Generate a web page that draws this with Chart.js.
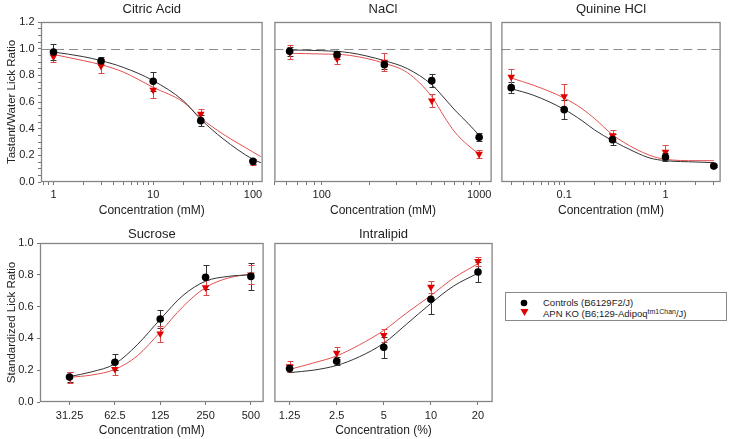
<!DOCTYPE html>
<html>
<head>
<meta charset="utf-8">
<script src="https://cdn.jsdelivr.net/npm/chart.js@4.4.0/dist/chart.umd.min.js"></script>
<style>
  body { margin: 0; background: #fff; width: 729px; height: 439px; position: relative; overflow: hidden;
         font-family: "Liberation Sans", Arial, Helvetica, sans-serif; }
  canvas { position: absolute; }
  #legend { position: absolute; left: 505px; top: 292px; width: 220px; height: 27px; border: 1px solid #8a8a8a;
            font-size: 9.5px; color: #222; }
  #legend .row { position: absolute; left: 0; height: 10px; line-height: 10px; white-space: nowrap; }
  #legend svg { position: absolute; left: 14px; top: 1px; }
  #legend span { position: absolute; left: 37px; top: 0; }
  #legend sup { font-size: 7px; vertical-align: 3px; }
</style>
</head>
<body>
<canvas id="citric" width="267" height="218" style="left:0;top:0"></canvas>
<canvas id="nacl" width="226" height="218" style="left:270px;top:0"></canvas>
<canvas id="quinine" width="228" height="218" style="left:497px;top:0"></canvas>
<canvas id="sucrose" width="268" height="213" style="left:0;top:225px"></canvas>
<canvas id="intralipid" width="227" height="213" style="left:270px;top:225px"></canvas>
<div id="legend">
  <div class="row" style="top:5px"><svg width="8" height="8"><circle cx="4" cy="4" r="3.3" fill="#000"/></svg><span>Controls (B6129F2/J)</span></div>
  <div class="row" style="top:14px"><svg width="9" height="8"><polygon points="0.5,1 8.5,1 4.5,8" fill="#e00000"/></svg><span>APN KO (B6;129-Adipoq<sup>tm1Chan</sup>/J)</span></div>
</div>
<script>
// ---- Citric Acid ----
const citricConc = [1, 3, 10, 30, 100];
const citricCtrl = [0.975, 0.907, 0.755, 0.46, 0.155];
const citricCtrlErr = [0.06, 0.03, 0.07, 0.04, 0.02];
const citricKO = [0.94, 0.87, 0.69, 0.51, 0.15];
const citricKOErr = [0.04, 0.05, 0.06, 0.04, 0.02];
const citricFitConc = [1, 2, 3, 5, 10, 20, 30, 50, 100, 120];
const citricFitCtrl = [0.975, 0.94, 0.91, 0.86, 0.76, 0.61, 0.47, 0.325, 0.17, 0.145];
const citricFitKO = [0.957, 0.91, 0.88, 0.825, 0.71, 0.60, 0.48, 0.36, 0.225, 0.19];
const citricTicks = [1, 10, 100];

// ---- NaCl ----
const naclConc = [62.5, 125, 250, 500, 1000];
const naclCtrl = [0.98, 0.955, 0.88, 0.76, 0.335];
const naclCtrlErr = [0.035, 0.03, 0.03, 0.05, 0.03];
const naclKO = [0.975, 0.925, 0.90, 0.61, 0.21];
const naclKOErr = [0.05, 0.04, 0.066, 0.05, 0.03];
const naclFitConc = [62.5, 100, 150, 250, 350, 500, 600, 700, 850, 1000];
const naclFitCtrl = [0.99, 0.985, 0.97, 0.91, 0.85, 0.73, 0.63, 0.54, 0.44, 0.35];
const naclFitKO = [0.965, 0.96, 0.95, 0.89, 0.82, 0.64, 0.49, 0.375, 0.275, 0.21];
const naclTicks = [100, 1000];

// ---- Quinine HCl ----
const quinConc = [0.03, 0.1, 0.3, 1, 3];
const quinCtrl = [0.7075, 0.5425, 0.3175, 0.1875, 0.12];
const quinCtrlErr = [0.04, 0.07, 0.04, 0.03, 0.01];
const quinKO = [0.7875, 0.6425, 0.35, 0.225, 0.12];
const quinKOErr = [0.06, 0.09, 0.04, 0.05, 0.01];
const quinFitConc = [0.03, 0.05, 0.1, 0.15, 0.2, 0.3, 0.5, 0.7, 1, 2, 3];
const quinFitCtrl = [0.70, 0.65, 0.545, 0.46, 0.39, 0.31, 0.225, 0.18, 0.16, 0.15, 0.145];
const quinFitKO = [0.78, 0.725, 0.63, 0.55, 0.475, 0.355, 0.25, 0.2, 0.17, 0.16, 0.16];
const quinTicks = [0.1, 1];

// ---- Sucrose ----
const sucConc = [31.25, 62.5, 125, 250, 500];
const sucCtrl = [0.157, 0.25, 0.522, 0.784, 0.79];
const sucCtrlErr = [0.03, 0.05, 0.055, 0.075, 0.085];
const sucKO = [0.155, 0.207, 0.43, 0.72, 0.80];
const sucKOErr = [0.035, 0.04, 0.05, 0.05, 0.06];
const sucFitConc = [31.25, 44, 62.5, 88, 125, 177, 250, 354, 500];
const sucFitCtrl = [0.16, 0.19, 0.24, 0.36, 0.52, 0.67, 0.76, 0.79, 0.80];
const sucFitKO = [0.155, 0.17, 0.205, 0.29, 0.44, 0.60, 0.72, 0.78, 0.805];

// ---- Intralipid ----
const lipConc = [1.25, 2.5, 5, 10, 20];
const lipCtrl = [0.21, 0.256, 0.344, 0.646, 0.818];
const lipCtrlErr = [0.02, 0.025, 0.065, 0.09, 0.065];
const lipKO = [0.224, 0.308, 0.42, 0.723, 0.885];
const lipKOErr = [0.035, 0.04, 0.04, 0.04, 0.03];
const lipFitConc = [1.25, 1.77, 2.5, 3.5, 5, 7, 10, 14, 20];
const lipFitCtrl = [0.185, 0.20, 0.23, 0.285, 0.37, 0.49, 0.62, 0.73, 0.81];
const lipFitKO = [0.205, 0.245, 0.29, 0.36, 0.45, 0.56, 0.67, 0.78, 0.87];

const refLine = 1.0;

Chart.defaults.font.family = "'Liberation Sans', Arial, Helvetica, sans-serif";
Chart.defaults.color = '#222';

const pts = (xs, ys) => xs.map((x, i) => ({ x: x, y: ys[i] }));
const near = (a, b) => Math.abs(a - b) <= Math.abs(b) * 1e-6 + 1e-9;

// minor ticks of a log axis: 1..9 x 10^n inside the range
function logTicks(min, max) {
  const out = [];
  for (let e = Math.floor(Math.log10(min)); e <= Math.ceil(Math.log10(max)); e++) {
    for (let m = 1; m < 10; m++) {
      const v = m * Math.pow(10, e);
      if (v >= min && v <= max) out.push(v);
    }
  }
  return out;
}

// error bars, drawn under the markers
const errorBars = {
  id: 'errorBars',
  beforeDatasetsDraw(chart) {
    const { ctx, scales: { x, y } } = chart;
    chart.data.datasets.forEach(ds => {
      if (!ds.errors) return;
      ctx.save();
      ctx.strokeStyle = ds.errorColor;
      ctx.lineWidth = 1;
      ds.data.forEach((p, j) => {
        const px = Math.round(x.getPixelForValue(p.x)) + 0.5;
        const t = Math.round(y.getPixelForValue(p.y + ds.errors[j])) + 0.5;
        const b = Math.round(y.getPixelForValue(p.y - ds.errors[j])) + 0.5;
        ctx.beginPath();
        ctx.moveTo(px, t); ctx.lineTo(px, b);
        ctx.moveTo(px - 3, t); ctx.lineTo(px + 3, t);
        ctx.moveTo(px - 3, b); ctx.lineTo(px + 3, b);
        ctx.stroke();
      });
      ctx.restore();
    });
  }
};

// box around the plot + dashed reference line
const frame = {
  id: 'frame',
  beforeDatasetsDraw(chart, args, opts) {
    if (opts.ref == null) return;
    const { ctx, chartArea: a, scales: { y } } = chart;
    const py = Math.round(y.getPixelForValue(opts.ref)) + 0.5;
    ctx.save();
    ctx.strokeStyle = '#8c8c8c';
    ctx.lineWidth = 1.2;
    ctx.setLineDash([9, 5]);
    ctx.beginPath(); ctx.moveTo(a.left, py); ctx.lineTo(a.right, py); ctx.stroke();
    ctx.restore();
  },
  afterDatasetsDraw(chart) {
    const { ctx, chartArea: a } = chart;
    ctx.save();
    ctx.strokeStyle = '#858585';
    ctx.lineWidth = 1.3;
    ctx.strokeRect(a.left + 0.5, a.top + 0.5, a.width - 1, a.height - 1);
    ctx.restore();
  }
};

function panel(id, p) {
  const ticksFor = p.minor ? logTicks(p.xMin, p.xMax) : p.xLabels;
  return new Chart(document.getElementById(id), {
    type: 'line',
    data: {
      datasets: [
        { data: pts(p.conc, p.ctrl), showLine: false, pointStyle: 'circle', pointRadius: 3.8,
          backgroundColor: '#000', borderColor: '#000', borderWidth: 0,
          errors: p.ctrlErr, errorColor: '#333', order: 0 },
        { data: pts(p.conc, p.ko), showLine: false, pointStyle: 'triangle', rotation: 180, pointRadius: 4.4,
          backgroundColor: '#e00000', borderColor: '#e00000', borderWidth: 0,
          errors: p.koErr, errorColor: '#e04848', order: 1 },
        { data: pts(p.fitX, p.fitCtrl), borderColor: '#333', borderWidth: 1, pointRadius: 0,
          cubicInterpolationMode: 'monotone', order: 2 },
        { data: pts(p.fitX, p.fitKO), borderColor: '#e05050', borderWidth: 1, pointRadius: 0,
          cubicInterpolationMode: 'monotone', order: 3 }
      ]
    },
    options: {
      responsive: false,
      animation: false,
      events: [],
      layout: { padding: 0 },
      plugins: {
        legend: { display: false },
        tooltip: { enabled: false },
        title: { display: true, text: p.title, fullSize: false, color: '#222',
                 font: { size: 13, weight: 'normal' }, padding: { top: p.titleTop, bottom: p.titleGap } },
        frame: { ref: p.ref }
      },
      scales: {
        x: {
          type: 'logarithmic', min: p.xMin, max: p.xMax,
          afterBuildTicks: s => { s.ticks = ticksFor.map(v => ({ value: v })); },
          afterFit: s => { s.height = 36; },
          border: { display: false },
          grid: { drawOnChartArea: false, tickLength: 3, tickColor: '#777' },
          ticks: { autoSkip: false, maxRotation: 0, padding: p.xTickPad, font: { size: 11 },
                   callback: v => { const hit = p.xLabels.find(t => near(v, t)); return hit === undefined ? '' : String(hit); } },
          title: { display: true, text: p.xTitle, font: { size: 12 }, padding: { top: 0, bottom: 0 } }
        },
        y: {
          display: p.showY, min: 0, max: p.yMax,
          afterFit: s => { s.width = p.yWidth; },
          border: { display: false },
          grid: { drawOnChartArea: false, tickLength: 3, tickColor: '#777' },
          ticks: { stepSize: p.yStep, autoSkip: false, padding: 3.5, font: { size: 11 },
                   callback: v => near(v / p.yLabelStep, Math.round(v / p.yLabelStep)) ? v.toFixed(1) : '' },
          title: { display: true, text: p.yTitle, font: { size: 11.5 }, padding: { top: 5, bottom: 0 } }
        }
      }
    },
    plugins: [frame, errorBars]
  });
}

const topRow = { ref: refLine, yMax: 1.2, yStep: 0.05, yLabelStep: 0.2, titleTop: 1.5, titleGap: 4.9, minor: true,
                 xTickPad: 3.5, xTitle: 'Concentration (mM)', yTitle: 'Tastant/Water Lick Ratio' };
const bottomRow = { ref: null, yMax: 1.0, yStep: 0.2, yLabelStep: 0.2, titleTop: 1.5, titleGap: 0.9, minor: false,
                    xTickPad: 4.5, yTitle: 'Standardized Lick Ratio' };

panel('citric', Object.assign({}, topRow, {
  title: 'Citric Acid', showY: true, yWidth: 41, xMin: 0.75, xMax: 125, xLabels: citricTicks,
  conc: citricConc, ctrl: citricCtrl, ctrlErr: citricCtrlErr, ko: citricKO, koErr: citricKOErr,
  fitX: citricFitConc, fitCtrl: citricFitCtrl, fitKO: citricFitKO }));

panel('nacl', Object.assign({}, topRow, {
  title: 'NaCl', showY: false, yWidth: 0, xMin: 50, xMax: 1200, xLabels: naclTicks,
  conc: naclConc, ctrl: naclCtrl, ctrlErr: naclCtrlErr, ko: naclKO, koErr: naclKOErr,
  fitX: naclFitConc, fitCtrl: naclFitCtrl, fitKO: naclFitKO }));

panel('quinine', Object.assign({}, topRow, {
  title: 'Quinine HCl', showY: false, yWidth: 0, xMin: 0.024, xMax: 3.5, xLabels: quinTicks,
  conc: quinConc, ctrl: quinCtrl, ctrlErr: quinCtrlErr, ko: quinKO, koErr: quinKOErr,
  fitX: quinFitConc, fitCtrl: quinFitCtrl, fitKO: quinFitKO }));

panel('sucrose', Object.assign({}, bottomRow, {
  title: 'Sucrose', showY: true, yWidth: 40, xMin: 19.9, xMax: 607, xLabels: sucConc,
  xTitle: 'Concentration (mM)',
  conc: sucConc, ctrl: sucCtrl, ctrlErr: sucCtrlErr, ko: sucKO, koErr: sucKOErr,
  fitX: sucFitConc, fitCtrl: sucFitCtrl, fitKO: sucFitKO }));

panel('intralipid', Object.assign({}, bottomRow, {
  title: 'Intralipid', showY: false, yWidth: 0, xMin: 1.0, xMax: 24.8, xLabels: lipConc,
  xTitle: 'Concentration (%)',
  conc: lipConc, ctrl: lipCtrl, ctrlErr: lipCtrlErr, ko: lipKO, koErr: lipKOErr,
  fitX: lipFitConc, fitCtrl: lipFitCtrl, fitKO: lipFitKO }));
</script>
</body>
</html>
